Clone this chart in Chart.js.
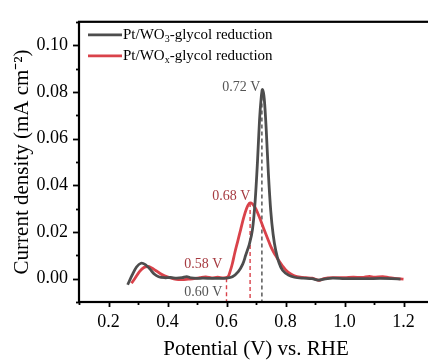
<!DOCTYPE html>
<html>
<head>
<meta charset="utf-8">
<script src="https://cdn.jsdelivr.net/npm/chart.js@4"></script>
<style>
    html, body { margin: 0; padding: 0; background: #fff; overflow: hidden; }
    #wrap { width: 440px; height: 363px; }
</style>
</head>
<body>
<div id="wrap"><canvas id="cv" width="440" height="363"></canvas></div>
<script>
// ─── DATA ─────────────────────────────────────────────────────────────────────
const wo3X = [0.265, 0.28, 0.295, 0.31, 0.325, 0.34, 0.355, 0.37, 0.39, 0.41, 0.43, 0.45, 0.465, 0.48, 0.50,
    0.52, 0.55, 0.58, 0.60, 0.62, 0.64, 0.655, 0.665, 0.678, 0.688, 0.697, 0.705, 0.712, 0.718, 0.722,
    0.728, 0.735, 0.742, 0.75, 0.758, 0.767, 0.778, 0.79, 0.81, 0.83, 0.86, 0.89, 0.91, 0.93, 0.96,
    1.00, 1.04, 1.08, 1.12, 1.16, 1.19];
const wo3Y = [-0.0026, 0.0015, 0.0050, 0.0066, 0.0060, 0.0042, 0.0020, 0.0008, 0.0004, 0.0005, 0.0002, 0.0004, 0.0009, 0.0003, 0.0001,
    0.0002, 0.0001, 0.0001, 0.0002, 0.0008, 0.0030, 0.0062, 0.0100, 0.0150, 0.0210, 0.0330, 0.0500, 0.0680, 0.0780, 0.0810,
    0.0770, 0.0630, 0.0450, 0.0290, 0.0190, 0.0120, 0.0068, 0.0036, 0.0015, 0.0006, 0.0002, 0.0000, -0.0006, -0.0002, 0.0002,
    0.0000, 0.0000, 0.0000, 0.0001, 0.0000, -0.0002];

const woxX = [0.278, 0.29, 0.305, 0.32, 0.333, 0.345, 0.36, 0.375, 0.39, 0.41, 0.43, 0.45, 0.47, 0.49, 0.51,
    0.53, 0.55, 0.57, 0.59, 0.605, 0.612, 0.62, 0.628, 0.638, 0.648, 0.658, 0.668, 0.677, 0.684, 0.692,
    0.70, 0.71, 0.72, 0.73, 0.74, 0.75, 0.76, 0.77, 0.78, 0.79, 0.80, 0.815, 0.83, 0.85, 0.87,
    0.89, 0.905, 0.915, 0.93, 0.96, 1.00, 1.03, 1.06, 1.085, 1.10, 1.13, 1.15, 1.17, 1.20];
const woxY = [-0.0020, 0.0002, 0.0030, 0.0048, 0.0052, 0.0047, 0.0035, 0.0022, 0.0012, 0.0003, -0.0003, -0.0004, -0.0002, 0.0000, 0.0004,
    0.0007, 0.0003, 0.0006, 0.0003, 0.0008, 0.0030, 0.0065, 0.0110, 0.0160, 0.0210, 0.0260, 0.0300, 0.0322, 0.0324, 0.0314,
    0.0298, 0.0268, 0.0235, 0.0202, 0.0170, 0.0138, 0.0113, 0.0092, 0.0072, 0.0054, 0.0038, 0.0022, 0.0012, 0.0006, 0.0004,
    0.0002, -0.0004, -0.0007, 0.0000, 0.0004, 0.0004, 0.0006, 0.0005, 0.0010, 0.0006, 0.0009, 0.0004, 0.0001, -0.0002];

const xTicks = [0.2, 0.4, 0.6, 0.8, 1.0, 1.2];
const yTicks = [0.00, 0.02, 0.04, 0.06, 0.08, 0.10];

// dashed guide lines: x position and where they start (y)
const guideX = [0.72, 0.68, 0.60];
const guideY = [0.081, 0.0324, 0.0002];
// peak labels, anchored by their right edge
const labelText = ['0.72 V', '0.68 V', '0.58 V', '0.60 V'];
const labelX = [0.715, 0.681, 0.586, 0.586];
const labelY = [0.0819, 0.0353, 0.0063, -0.0057];

const GRAY = '#4d4d4d';
const RED = '#d9424a';
const TXT_RED = '#a63a40';
const TXT_GRAY = '#555555';
const guideColor = [GRAY, RED, RED];
const labelColor = [TXT_GRAY, TXT_RED, TXT_RED, TXT_GRAY];
const SERIF = "'Liberation Serif', 'Times New Roman', serif";

const toPts = (xs, ys) => xs.map((x, i) => ({ x: x, y: ys[i] }));

// ─── PLUGIN: frame, minor ticks, guides, labels, legend ───────────────────────
const decor = {
    id: 'decor',
    beforeDatasetsDraw(chart) {
        const { ctx, scales: { x, y }, chartArea: a } = chart;
        ctx.save();
        ctx.lineWidth = 1.4;
        ctx.setLineDash([4, 3]);
        guideX.forEach((gx, i) => {
            ctx.strokeStyle = guideColor[i];
            ctx.beginPath();
            ctx.moveTo(x.getPixelForValue(gx), y.getPixelForValue(guideY[i]));
            ctx.lineTo(x.getPixelForValue(gx), a.bottom);
            ctx.stroke();
        });
        ctx.restore();
    },
    afterDraw(chart) {
        const { ctx, scales: { x, y }, chartArea: a } = chart;
        ctx.save();
        // frame
        ctx.strokeStyle = '#000';
        ctx.lineWidth = 2.2;
        ctx.strokeRect(a.left, a.top, a.right - a.left, a.bottom - a.top);

        // ticks (major long, minor short), pointing outward
        ctx.lineWidth = 1.8;
        for (let k = 1; k <= 12; k++) {
            const v = k / 10;
            const px = Math.round(x.getPixelForValue(v)) + 0.5;
            const len = (k % 2 === 0) ? 5 : 3;
            ctx.beginPath();
            ctx.moveTo(px, a.bottom);
            ctx.lineTo(px, a.bottom + len);
            ctx.stroke();
        }
        for (let k = -1; k <= 11; k++) {
            const v = k / 100;
            const py = Math.round(y.getPixelForValue(v)) + 0.5;
            const len = (k % 2 === 0) ? 6 : 3;
            ctx.beginPath();
            ctx.moveTo(a.left, py);
            ctx.lineTo(a.left - len, py);
            ctx.stroke();
        }

        // peak labels
        ctx.font = '14px ' + SERIF;
        ctx.textAlign = 'right';
        ctx.textBaseline = 'middle';
        labelText.forEach((t, i) => {
            ctx.fillStyle = labelColor[i];
            ctx.fillText(t, x.getPixelForValue(labelX[i]), y.getPixelForValue(labelY[i]));
        });

        // legend
        const items = [
            { color: GRAY, sub: '3' },
            { color: RED, sub: 'x' }
        ];
        items.forEach((it, i) => {
            const ly = a.top + 13 + i * 21;
            const lx = a.left + 9;
            ctx.strokeStyle = it.color;
            ctx.lineWidth = 2.8;
            ctx.beginPath();
            ctx.moveTo(lx, ly);
            ctx.lineTo(lx + 34, ly);
            ctx.stroke();
            ctx.fillStyle = '#000';
            ctx.textAlign = 'left';
            ctx.textBaseline = 'middle';
            let tx = lx + 35;
            ctx.font = '15px ' + SERIF;
            ctx.fillText('Pt/WO', tx, ly);
            tx += ctx.measureText('Pt/WO').width;
            ctx.font = '10px ' + SERIF;
            ctx.fillText(it.sub, tx, ly + 5);
            tx += ctx.measureText(it.sub).width;
            ctx.font = '15px ' + SERIF;
            ctx.fillText('-glycol reduction', tx, ly);
        });
        ctx.restore();
    }
};

// ─── CHART ────────────────────────────────────────────────────────────────────
new Chart(document.getElementById('cv'), {
    type: 'line',
    data: {
        datasets: [
            {
                label: 'Pt/WO3-glycol reduction',
                data: toPts(wo3X, wo3Y),
                borderColor: GRAY,
                borderWidth: 2.8,
                pointRadius: 0,
                tension: 0.3,
                fill: false
            },
            {
                label: 'Pt/WOx-glycol reduction',
                data: toPts(woxX, woxY),
                borderColor: RED,
                borderWidth: 2.8,
                pointRadius: 0,
                tension: 0.3,
                fill: false
            }
        ]
    },
    options: {
        responsive: false,
        animation: false,
        layout: { padding: { top: 16, right: 7, left: 0, bottom: 0 } },
        plugins: { legend: { display: false }, tooltip: { enabled: false } },
        scales: {
            x: {
                type: 'linear',
                min: 0.1,
                max: 1.3,
                afterBuildTicks: s => { s.ticks = xTicks.map(v => ({ value: v })); },
                afterFit: s => { s.height = 61; },
                grid: { display: false, drawTicks: false },
                border: { display: false },
                ticks: {
                    padding: 9,
                    color: '#000',
                    font: { family: SERIF, size: 18 },
                    callback: v => v.toFixed(1)
                },
                title: {
                    display: true,
                    text: 'Potential (V) vs. RHE',
                    color: '#000',
                    font: { family: SERIF, size: 21 },
                    padding: { top: 0, bottom: 1 }
                }
            },
            y: {
                type: 'linear',
                min: -0.01,
                max: 0.11,
                afterBuildTicks: s => { s.ticks = yTicks.map(v => ({ value: v })); },
                afterFit: s => { s.width = 79; },
                grid: { display: false, drawTicks: false },
                border: { display: false },
                ticks: {
                    padding: 11,
                    color: '#000',
                    font: { family: SERIF, size: 18 },
                    callback: v => v.toFixed(2)
                },
                title: {
                    display: true,
                    text: 'Current density (mA cm⁻²)',
                    color: '#000',
                    font: { family: SERIF, size: 21 },
                    padding: { top: 10, bottom: 0 }
                }
            }
        }
    },
    plugins: [decor]
});
</script>
</body>
</html>
